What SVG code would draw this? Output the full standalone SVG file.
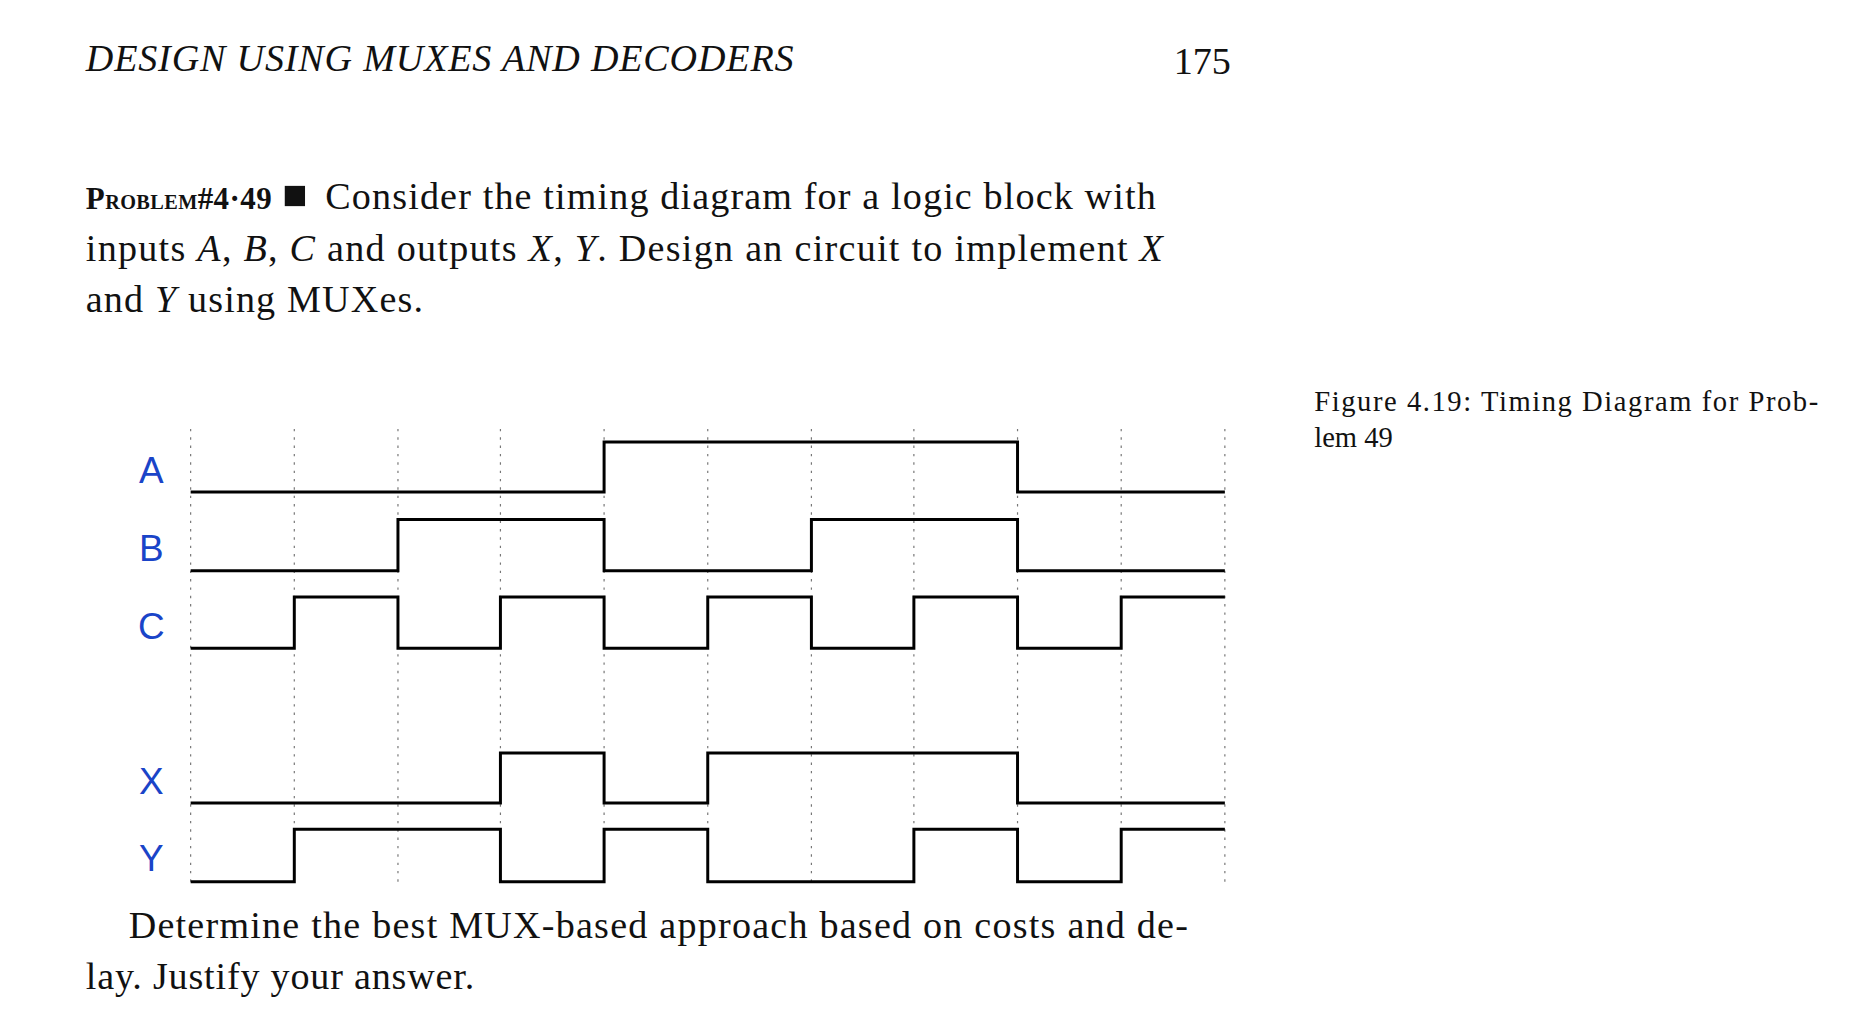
<svg xmlns="http://www.w3.org/2000/svg" width="1866" height="1018" viewBox="0 0 1866 1018">
<style>
.t{font-family:"Liberation Serif",serif;font-size:32px;fill:#111}
.cap{font-family:"Liberation Serif",serif;font-size:24px;fill:#111}
.lab{font-family:"Liberation Sans",sans-serif;font-size:31px;fill:#1a44c8;text-anchor:middle}
.grid{stroke:#777;stroke-width:1;stroke-dasharray:2,5}
.sig{fill:none;stroke:#000;stroke-width:2.5}
</style>
<rect width="1866" height="1018" fill="#fff"/>
<g transform="scale(1.1915)">
<g id="header">
<text class="t" x="72" y="60" font-style="italic" textLength="594">DESIGN USING MUXES AND DECODERS</text>
<text class="t" x="985" y="62">175</text>
</g>
<g id="problem">
<text class="t" x="72" y="175" textLength="156"><tspan font-weight="bold" font-size="26">P</tspan><tspan font-weight="bold" font-size="17">ROBLEM</tspan><tspan font-weight="bold" font-size="26">#4·49</tspan></text>
<rect x="239" y="156" width="17" height="17" fill="#111"/>
<text class="t" x="273" y="175" textLength="697">Consider the timing diagram for a logic block with</text>
<text class="t" x="72" y="219" textLength="904">inputs <tspan font-style="italic">A</tspan>, <tspan font-style="italic">B</tspan>, <tspan font-style="italic">C</tspan> and outputs <tspan font-style="italic">X</tspan>, <tspan font-style="italic">Y</tspan>. Design an circuit to implement <tspan font-style="italic">X</tspan></text>
<text class="t" x="72" y="262" textLength="283">and <tspan font-style="italic">Y</tspan> using MUXes.</text>
</g>
<g id="caption">
<text class="cap" x="1103" y="345" textLength="423">Figure 4.19: Timing Diagram for Prob-</text>
<text class="cap" x="1103" y="375">lem 49</text>
</g>
<g id="grid">
<path class="grid" d="M160 360V745M247 360V745M334 360V745M420 360V745M507 360V745M594 360V745M681 360V745M767 360V745M854 360V745M941 360V745M1028 360V745"/>
</g>
<g id="labels">
<text class="lab" x="127" y="405">A</text>
<text class="lab" x="127" y="471">B</text>
<text class="lab" x="127" y="536">C</text>
<text class="lab" x="127" y="666">X</text>
<text class="lab" x="127" y="731">Y</text>
</g>
<g id="signals">
<path id="sigA" class="sig" d="M160 413H507V371H854V413H1028"/>
<path id="sigB" class="sig" d="M160 479H334V436H507V479H681V436H854V479H1028"/>
<path id="sigC" class="sig" d="M160 544H247V501H334V544H420V501H507V544H594V501H681V544H767V501H854V544H941V501H1028"/>
<path id="sigX" class="sig" d="M160 674H420V632H507V674H594V632H854V674H1028"/>
<path id="sigY" class="sig" d="M160 740H247V696H420V740H507V696H594V740H767V696H854V740H941V696H1028"/>
</g>
<g id="footer">
<text class="t" x="108" y="787" textLength="889">Determine the best MUX-based approach based on costs and de-</text>
<text class="t" x="72" y="830" textLength="326">lay. Justify your answer.</text>
</g>
</g>
</svg>
